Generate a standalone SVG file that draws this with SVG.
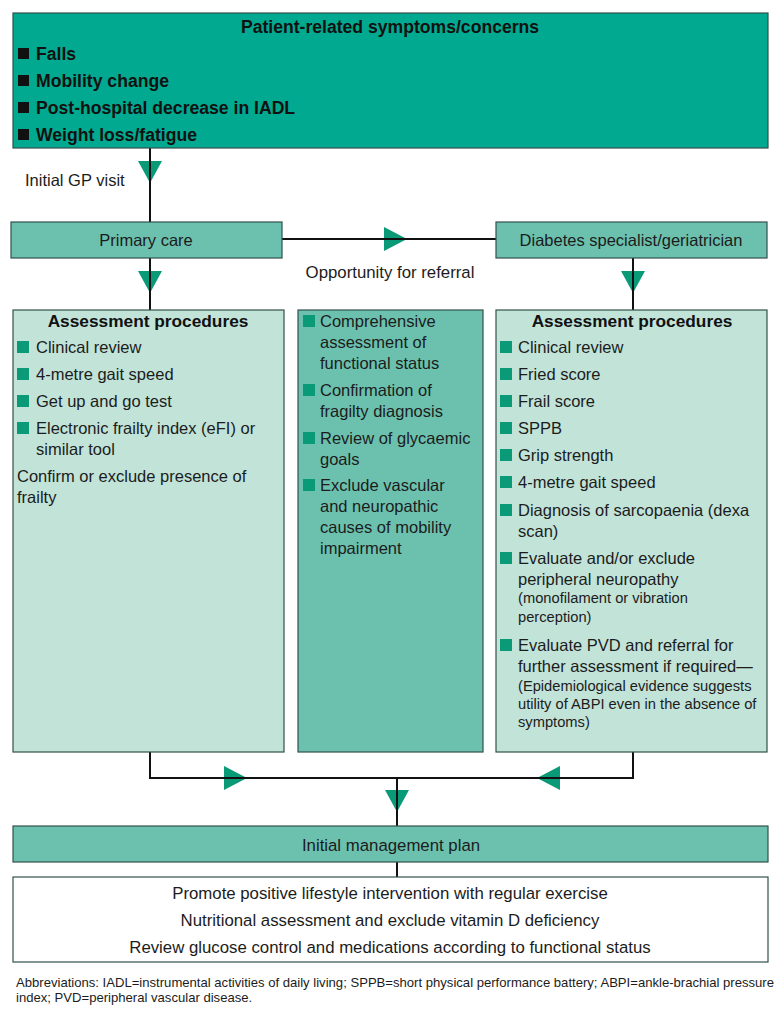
<svg xmlns="http://www.w3.org/2000/svg" width="780" height="1027" viewBox="0 0 780 1027">
<style>
.t{font-family:"Liberation Sans",Arial,sans-serif;font-size:16.5px;fill:#1c1c1c}
.b{font-weight:bold;fill:#111;font-size:17.6px}
.h{font-family:"Liberation Sans",Arial,sans-serif;font-size:17.3px;font-weight:bold;fill:#111}
.s{font-family:"Liberation Sans",Arial,sans-serif;font-size:14.7px;fill:#1c1c1c}
.bt{font-size:16.8px}
.ab{font-family:"Liberation Sans",Arial,sans-serif;font-size:13.1px;fill:#1c1c1c}
.c{text-anchor:middle}
.box{stroke:#33514b;stroke-width:1.2}
.top{fill:#00a98f}
.mid{fill:#6bc1ae}
.lt{fill:#c1e3d8}
.wh{fill:#ffffff}
.gb{fill:#0a9a78}
.bk{fill:#111}
.ln{stroke:#111;stroke-width:2;fill:none}
.ar{fill:#0a9a78}
</style>
<defs>
<polygon id="ad" points="-12,0 12,0 0,22"/>
</defs>
<rect width="780" height="1027" fill="#ffffff"/>

<g id="connectors">
<use href="#ad" class="ar" x="150" y="161"/>
<use href="#ad" class="ar" x="150" y="271"/>
<use href="#ad" class="ar" x="633" y="271"/>
<use href="#ad" class="ar" x="397" y="790"/>
<polygon class="ar" points="384,227 384,251 407,239"/>
<polygon class="ar" points="224,766 224,790 247,778"/>
<polygon class="ar" points="560,766 560,790 537,778"/>
<line class="ln" x1="150" y1="148" x2="150" y2="222"/>
<line class="ln" x1="282" y1="239" x2="496" y2="239"/>
<line class="ln" x1="150" y1="258" x2="150" y2="310"/>
<line class="ln" x1="633" y1="258" x2="633" y2="310"/>
<polyline class="ln" points="150,752 150,778 633,778 633,752"/>
<line class="ln" x1="397" y1="778" x2="397" y2="826"/>
<line class="ln" x1="397" y1="862" x2="397" y2="877"/>
</g>

<g id="symptoms">
<rect class="box top" x="13" y="13" width="755" height="135"/>
<text class="t b c" x="390" y="33">Patient-related symptoms/concerns</text>
<rect class="bk" x="18" y="48" width="11" height="11"/>
<text class="t b" x="36" y="60">Falls</text>
<rect class="bk" x="18" y="75" width="11" height="11"/>
<text class="t b" x="36" y="87">Mobility change</text>
<rect class="bk" x="18" y="102" width="11" height="11"/>
<text class="t b" x="36" y="114">Post-hospital decrease in IADL</text>
<rect class="bk" x="18" y="129" width="11" height="11"/>
<text class="t b" x="36" y="141">Weight loss/fatigue</text>
</g>

<g id="label-gp">
<text class="t" x="25" y="186">Initial GP visit</text>
</g>

<g id="primary-care">
<rect class="box mid" x="11" y="222" width="271" height="36"/>
<text class="t c" x="146" y="246">Primary care</text>
</g>

<g id="label-referral">
<text class="t bt c" x="390" y="278">Opportunity for referral</text>
</g>

<g id="specialist">
<rect class="box mid" x="496" y="222" width="271" height="36"/>
<text class="t c" x="631" y="246">Diabetes specialist/geriatrician</text>
</g>

<g id="assessment-primary">
<rect class="box lt" x="13" y="310" width="271" height="442"/>
<text class="h c" x="148" y="327">Assessment procedures</text>
<rect class="gb" x="17" y="341" width="12" height="12"/>
<text class="t" x="36" y="353">Clinical review</text>
<rect class="gb" x="17" y="368" width="12" height="12"/>
<text class="t" x="36" y="380">4-metre gait speed</text>
<rect class="gb" x="17" y="395" width="12" height="12"/>
<text class="t" x="36" y="407">Get up and go test</text>
<rect class="gb" x="17" y="422" width="12" height="12"/>
<text class="t" x="36" y="434">Electronic frailty index (eFI) or</text>
<text class="t" x="36" y="455">similar tool</text>
<text class="t" x="17" y="482">Confirm or exclude presence of</text>
<text class="t" x="17" y="503">frailty</text>
</g>

<g id="assessment-shared">
<rect class="box mid" x="298" y="310" width="185" height="442"/>
<rect class="gb" x="303" y="315" width="12" height="12"/>
<text class="t" x="320" y="327">Comprehensive</text>
<text class="t" x="320" y="348">assessment of</text>
<text class="t" x="320" y="369">functional status</text>
<rect class="gb" x="303" y="384" width="12" height="12"/>
<text class="t" x="320" y="396">Confirmation of</text>
<text class="t" x="320" y="417">fragilty diagnosis</text>
<rect class="gb" x="303" y="432" width="12" height="12"/>
<text class="t" x="320" y="444">Review of glycaemic</text>
<text class="t" x="320" y="465">goals</text>
<rect class="gb" x="303" y="479" width="12" height="12"/>
<text class="t" x="320" y="491">Exclude vascular</text>
<text class="t" x="320" y="512">and neuropathic</text>
<text class="t" x="320" y="533">causes of mobility</text>
<text class="t" x="320" y="554">impairment</text>
</g>

<g id="assessment-specialist">
<rect class="box lt" x="496" y="310" width="271" height="442"/>
<text class="h c" x="632" y="327">Assessment procedures</text>
<rect class="gb" x="500" y="341" width="12" height="12"/>
<text class="t" x="518" y="353">Clinical review</text>
<rect class="gb" x="500" y="368" width="12" height="12"/>
<text class="t" x="518" y="380">Fried score</text>
<rect class="gb" x="500" y="395" width="12" height="12"/>
<text class="t" x="518" y="407">Frail score</text>
<rect class="gb" x="500" y="422" width="12" height="12"/>
<text class="t" x="518" y="434">SPPB</text>
<rect class="gb" x="500" y="449" width="12" height="12"/>
<text class="t" x="518" y="461">Grip strength</text>
<rect class="gb" x="500" y="476" width="12" height="12"/>
<text class="t" x="518" y="488">4-metre gait speed</text>
<rect class="gb" x="500" y="504" width="12" height="12"/>
<text class="t" x="518" y="516">Diagnosis of sarcopaenia (dexa</text>
<text class="t" x="518" y="537">scan)</text>
<rect class="gb" x="500" y="552" width="12" height="12"/>
<text class="t" x="518" y="564">Evaluate and/or exclude</text>
<text class="t" x="518" y="585">peripheral neuropathy</text>
<text class="s" x="518" y="603">(monofilament or vibration</text>
<text class="s" x="518" y="622">perception)</text>
<rect class="gb" x="500" y="639" width="12" height="12"/>
<text class="t" x="518" y="651">Evaluate PVD and referral for</text>
<text class="t" x="518" y="672">further assessment if required—</text>
<text class="s" x="518" y="691">(Epidemiological evidence suggests</text>
<text class="s" x="518" y="709">utility of ABPI even in the absence of</text>
<text class="s" x="518" y="727">symptoms)</text>
</g>

<g id="management-plan">
<rect class="box mid" x="13" y="826" width="755" height="36"/>
<text class="t bt c" x="391" y="851">Initial management plan</text>
</g>

<g id="management-actions">
<rect class="box wh" x="13" y="877" width="755" height="85"/>
<text class="t bt c" x="390" y="899">Promote positive lifestyle intervention with regular exercise</text>
<text class="t bt c" x="390" y="926">Nutritional assessment and exclude vitamin D deficiency</text>
<text class="t bt c" x="390" y="953">Review glucose control and medications according to functional status</text>
</g>

<g id="abbreviations">
<text class="ab" x="16" y="987">Abbreviations: IADL=instrumental activities of daily living; SPPB=short physical performance battery; ABPI=ankle-brachial pressure</text>
<text class="ab" x="16" y="1002">index; PVD=peripheral vascular disease.</text>
</g>
</svg>
